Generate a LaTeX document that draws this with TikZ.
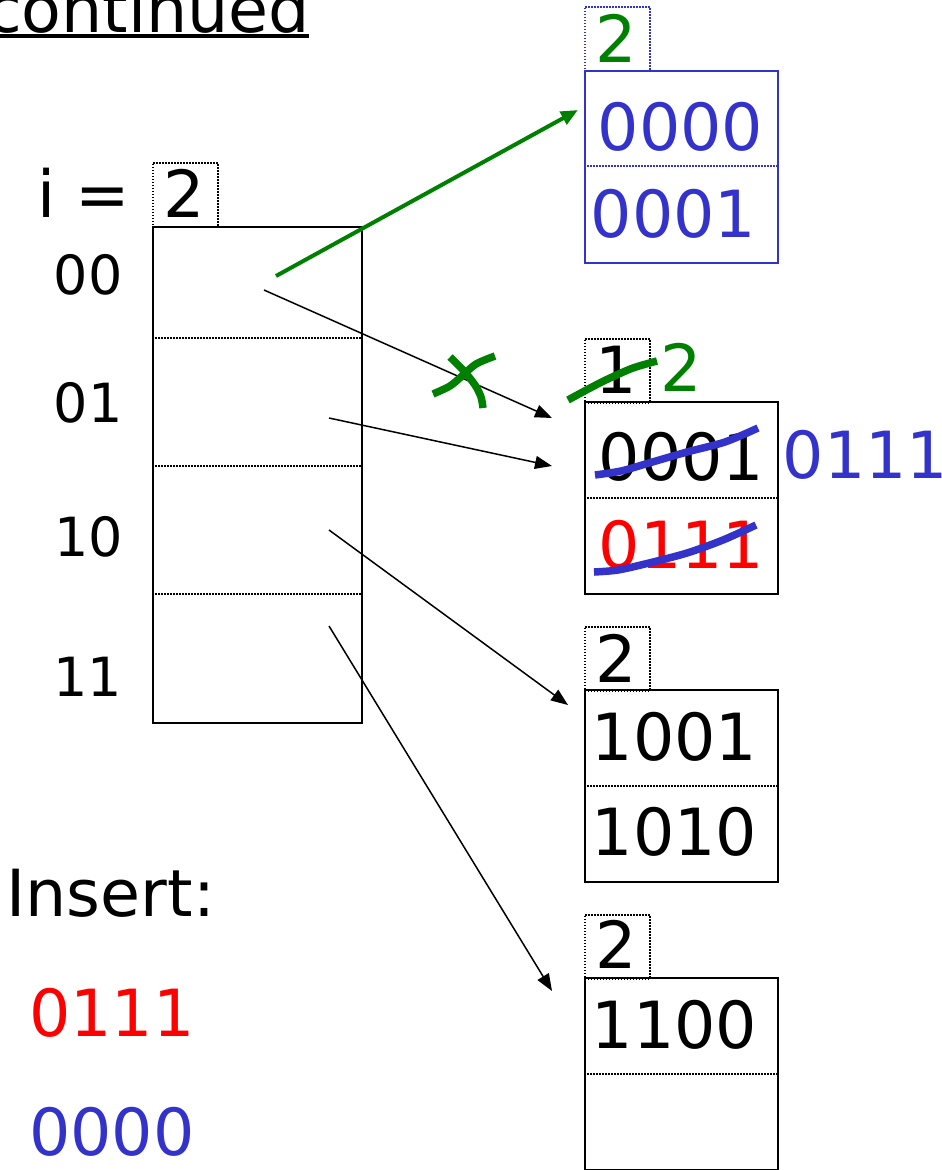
\documentclass[tikz,border=0pt]{standalone}
\usepackage{fontspec}
\setmainfont{DejaVu Sans}
\usetikzlibrary{arrows.meta}
\definecolor{myblue}{HTML}{3333CC}
\definecolor{mygreen}{HTML}{008000}
\definecolor{myred}{HTML}{FF0000}
\begin{document}
\begin{tikzpicture}[x=1pt,y=-1pt,
  big/.style={font=\fontsize{65}{78}\selectfont, inner sep=0pt, outer sep=0pt},
  bigw/.style={big, anchor=base west},
  bigc/.style={big, anchor=base},
  lbl/.style={font=\fontsize{54}{64}\selectfont, inner sep=0pt, anchor=base west},
  bucket/.style={draw, line width=1.5pt, minimum width=193pt, minimum height=192pt, anchor=north west, inner sep=0pt},
  depthbox/.style={draw, line width=1.6pt, dash pattern=on 1.5pt off 1.5pt, minimum width=65pt, minimum height=64pt, anchor=north west, inner sep=0pt},
  dotline/.style={line width=1.6pt, dash pattern=on 1.5pt off 1.5pt},
  ptr/.style={line width=1.5pt, -{Triangle[length=17pt,width=13pt]}},
  gptr/.style={line width=4pt, mygreen, -{Triangle[length=17pt,width=14pt]}},
  scribble/.style={line width=7.5pt},
]
\useasboundingbox (0,0) rectangle (942,1170);

% title
\node[big, anchor=base east] (title) at (310,32) {continued};
\draw[line width=4.5pt] (title.base west |- 0,36) -- (309,36);

% directory
\node[bigw] (ieq) at (37,217) {i =};
\node[depthbox] (dd) at (152,162) {};
\node[bigc] (ddv) at (184.5,217) {2};
\node[draw, line width=1.5pt, minimum width=209pt, minimum height=496pt, anchor=north west, inner sep=0pt] (dir) at (152,226) {};
\draw[dotline] (152,338) -- (361,338);
\draw[dotline] (152,466) -- (361,466);
\draw[dotline] (152,594) -- (361,594);
\node[lbl] (l00) at (53.5,294) {00};
\node[lbl] (l01) at (53.5,422) {01};
\node[lbl] (l10) at (54,556) {10};
\node[lbl] (l11) at (53,696) {11};

% bucket 1 (blue, new)
\node[depthbox, draw=myblue] (d1) at (584,6) {};
\node[bigc, mygreen] (d1v) at (616.5,62) {2};
\node[bucket, draw=myblue] (b1) at (584,70) {};
\draw[dotline, myblue] (584,166) -- (777,166);
\node[bigw, myblue] (b1a) at (597.7,150) {0000};
\node[bigw, myblue] (b1b) at (590.7,237) {0001};

% bucket 2
\node[depthbox] (d2) at (584,338) {};
\node[bigc] (d2v) at (616.5,393) {1};
\node[bigw, mygreen] (d2n) at (660,391) {2};
\node[bucket] (b2) at (584,401) {};
\draw[dotline] (584,498) -- (777,498);
\node[bigw] (b2a) at (598.7,480) {0001};
\node[bigw, myred] (b2b) at (598.7,568) {0111};
\node[bigw, myblue] (b2n) at (782.7,478) {0111};

% bucket 3
\node[depthbox] (d3) at (584,626) {};
\node[bigc] (d3v) at (616.5,682) {2};
\node[bucket] (b3) at (584,689) {};
\draw[dotline] (584,786) -- (777,786);
\node[bigw] (b3a) at (591.8,760) {1001};
\node[bigw] (b3b) at (591.8,855) {1010};

% bucket 4
\node[depthbox] (d4) at (584,914) {};
\node[bigc] (d4v) at (616.5,968) {2};
\node[bucket] (b4) at (584,977) {};
\draw[dotline] (584,1074) -- (777,1074);
\node[bigw] (b4a) at (591.8,1048) {1100};

% insert list
\node[bigw] (ins) at (6.6,916) {Insert:};
\node[bigw, myred] (ins1) at (29,1036) {0111};
\node[bigw, myblue] (ins2) at (29,1155) {0000};

% pointers
\coordinate (s0g) at (276,276);
\coordinate (s0) at (264,290);
\coordinate (s1) at (329,418);
\coordinate (s2) at (329,530);
\coordinate (s3) at (329,626);
\coordinate (t0g) at (578,110);
\coordinate (t0) at (552,418);
\coordinate (t1) at (552,466);
\coordinate (t2) at (568,705);
\coordinate (t3) at (552,991);
\draw[ptr] (s0) -- (t0);
\draw[ptr] (s1) -- (t1);
\draw[ptr] (s2) -- (t2);
\draw[ptr] (s3) -- (t3);
\draw[gptr] (s0g) -- (t0g);

% green cross and strike
\draw[scribble, mygreen] plot[smooth] coordinates {(433,394) (450,386) (462,376) (476,364) (495,356)};
\draw[scribble, mygreen] plot[smooth] coordinates {(450,357) (463,370) (475,385) (481,397) (483,408)};
\draw[scribble, mygreen] plot[smooth] coordinates {(568,400) (592,387) (610,378) (633,368) (657,361)};

% blue strikes
\draw[scribble, myblue] plot[smooth] coordinates {(595,475) (621,471) (649,463) (687,452) (725,442) (758,428)};
\draw[scribble, myblue] plot[smooth] coordinates {(594,572) (618,570) (649,563) (687,553) (723,540) (756,525)};
\end{tikzpicture}
\end{document}
